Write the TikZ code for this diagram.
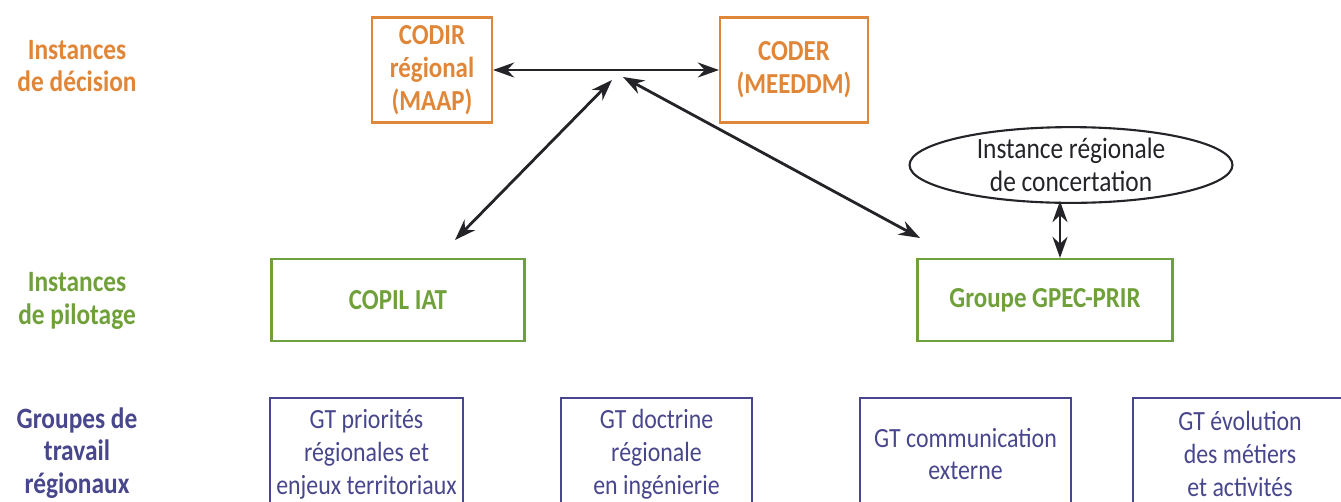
\documentclass[tikz,border=0pt]{standalone}
\usepackage{fontspec}
\setmainfont{Carlito}[FakeStretch=0.86]
\usetikzlibrary{arrows.meta, shapes.geometric, positioning}

\definecolor{decision}{RGB}{224,134,56}
\definecolor{pilotage}{RGB}{112,160,58}
\definecolor{travail}{RGB}{72,70,140}
\definecolor{trait}{RGB}{35,35,40}

\tikzset{
  niveau/.style={font=\fontsize{16.8}{18.7}\selectfont\bfseries, align=center},
  decisionbox/.style={draw=decision, line width=1.2pt, text=decision,
    font=\fontsize{16.5}{18.7}\selectfont\bfseries, align=center, minimum height=2.1cm},
  pilotbox/.style={draw=pilotage, line width=1.2pt, text=pilotage,
    font=\fontsize{16.5}{18.7}\selectfont\bfseries, align=center, minimum height=1.64cm},
  gtbox/.style={draw=travail, line width=1.2pt, text=travail,
    font=\fontsize{15.8}{18.7}\selectfont, align=center, minimum height=2.24cm},
  concert/.style={draw=trait, ellipse, line width=1.2pt, text=trait,
    font=\fontsize{16.8}{18.7}\selectfont, align=center,
    minimum width=6.46cm, minimum height=1.5cm, inner sep=0pt},
  link/.style={{Stealth[length=12pt,width=8.5pt]}-{Stealth[length=12pt,width=8.5pt]},
    line width=1.6pt, draw=trait}
}

\begin{document}
\begin{tikzpicture}[x=0.02cm, y=-0.02cm]
  \useasboundingbox (0,0) rectangle (1341,501);
  \clip (0,0) rectangle (1341,501);

  % niveaux
  \node[niveau, text=decision] (lbl-decision) at (77,66) {Instances\\de décision};
  \node[niveau, text=pilotage] (lbl-pilotage) at (77,301) {Instances\\de pilotage};
  \node[niveau, text=travail] (lbl-travail) at (77,453) {Groupes de\\travail\\régionaux};

  % instances de decision
  \node[decisionbox, minimum width=2.4cm] (codir) at (432,70) {CODIR\\régional\\(MAAP)};
  \node[decisionbox, minimum width=2.96cm] (coder) at (794,70) {CODER\\(MEEDDM)};

  % instances de pilotage
  \node[pilotbox, minimum width=5.06cm] (copil) at (398,300) {COPIL IAT};
  \node[pilotbox, minimum width=5.1cm] (gpec) at (1045,300) {Groupe GPEC-PRIR};
  \node[concert] (irc) at (1071,165) {Instance régionale\\de concertation};

  % groupes de travail
  \node[gtbox, minimum width=3.78cm] (gt1) at (366.5,454) {GT priorités\\régionales et\\enjeux territoriaux};
  \node[gtbox, minimum width=3.82cm] (gt2) at (656.5,454) {GT doctrine\\régionale\\en ingénierie};
  \node[gtbox, minimum width=4.22cm] (gt3) at (965.5,454) {GT communication\\externe};
  \node[gtbox, minimum width=4.28cm] (gt4) at (1240,454) {GT évolution\\des métiers\\et activités};

  % liaisons
  \coordinate (hubL) at (612,80);
  \coordinate (hubR) at (623,77);
  \coordinate (copiltip) at (455,240);
  \coordinate (gpectip) at (920,238);
  \coordinate (irclink) at (1060,201);

  \draw[link] (codir) -- (coder);
  \draw[link] (hubL) -- (copiltip);
  \draw[link] (hubR) -- (gpectip);
  \draw[link] (irclink) -- (irclink |- gpec.north);
\end{tikzpicture}
\end{document}
